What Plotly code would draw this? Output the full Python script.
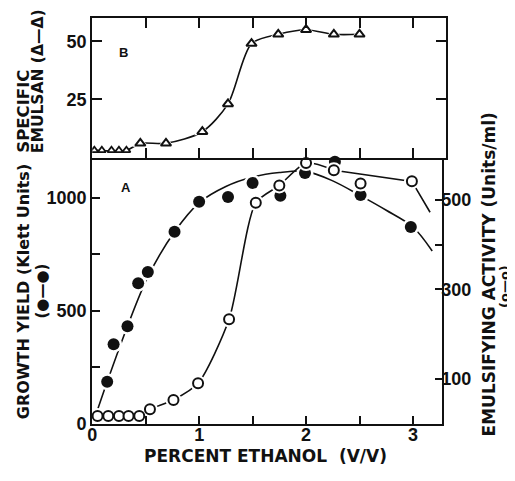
import plotly.graph_objects as go

# ---------------- data ----------------
# Panel A: growth yield (filled circles, left axis, Klett units)
growth_x = [0.14, 0.20, 0.33, 0.43, 0.52, 0.77, 1.00, 1.27, 1.50, 1.76, 1.99, 2.27, 2.51, 2.98]
growth_y = [186, 352, 432, 622, 672, 850, 983, 1004, 1066, 1009, 1110, 1160, 1012, 871]
# hand-drawn smooth curve through the growth data
growth_curve_x = [0.02, 0.14, 0.33, 0.52, 0.77, 1.00, 1.25, 1.50, 1.75, 2.00, 2.25, 2.50, 2.75, 3.00, 3.18]
growth_curve_y = [20, 186, 432, 650, 850, 978, 1050, 1092, 1112, 1117, 1075, 1012, 945, 871, 765]

# Panel A: emulsifying activity (open circles, right axis, units/ml)
emul_x = [0.05, 0.15, 0.25, 0.34, 0.44, 0.54, 0.76, 0.99, 1.28, 1.53, 1.75, 2.00, 2.26, 2.51, 2.99]
emul_y = [17, 17, 17, 17, 17, 32, 53, 90, 233, 493, 532, 582, 566, 536, 541]
emul_curve_x = [0.44, 0.54, 0.76, 0.99, 1.28, 1.53, 1.75, 2.00, 2.26]
emul_curve_y = [17, 32, 53, 90, 233, 493, 532, 582, 566]
emul_tail_x = [2.26, 2.99, 3.16]
emul_tail_y = [566, 541, 472]

# Panel B: specific emulsan (open triangles)
spec_low_x = [0.02, 0.09, 0.18, 0.25, 0.32]
spec_low_y = [3, 3, 3, 3, 3]
spec_x = [0.45, 0.69, 1.03, 1.27, 1.49, 1.74, 2.00, 2.26, 2.50]
spec_y = [6, 6, 11, 23, 49, 53, 55, 53, 53]
spec_curve_x = [0.02, 0.32, 0.45, 0.69, 1.03, 1.27, 1.49, 1.74, 2.00, 2.26, 2.50]
spec_curve_y = [3, 3, 6, 6, 11, 23, 49, 53, 55, 53, 53]

# tick labels
x_tickvals = [0, 0.5, 1, 1.5, 2, 2.5, 3]
x_ticktext = ["0", "", "1", "", "2", "", "3"]
left_tickvals = [0, 250, 500, 750, 1000]
left_ticktext = ["0", "", "500", "", "1000"]
right_tickvals = [100, 300, 400, 500]
right_ticktext = ["100", "300", "", "500"]
top_y_tickvals = [25, 50]
top_y_ticktext = ["25", "50"]
top_x_tickvals = [0.5, 1, 1.5, 2, 2.5, 3]

# ---------------- layout helpers ----------------
# the page body keeps its default 8 px margin; size the figure so the page is 515x481
OFF = 8
W, H = 515 - OFF, 481 - 2 * OFF
def fx(p):
    return (p - OFF) / W
def fy(p):
    return 1 - (p - OFF) / H

BLACK = "#111111"
TICKFONT = dict(family="Liberation Sans, Arial, sans-serif", size=18, color=BLACK, weight="bold")
TITLEFONT = "DejaVu Sans, sans-serif"

fig = go.Figure()

def line_trace(xs, ys, xa, ya, spline=True, smoothing=0.8):
    shape = dict(shape="spline", smoothing=smoothing) if spline else dict(shape="linear")
    fig.add_trace(go.Scatter(x=xs, y=ys, mode="lines",
                             line=dict(color=BLACK, width=1.6, **shape),
                             xaxis=xa, yaxis=ya, showlegend=False, hoverinfo="skip"))

def halo_trace(xs, ys, xa, ya, symbol, size):
    # white halo so the hand-drawn lines stop short of each symbol, as in the original
    fig.add_trace(go.Scatter(x=xs, y=ys, mode="markers",
                             marker=dict(symbol=symbol, size=size, color="white", line=dict(width=0)),
                             xaxis=xa, yaxis=ya, showlegend=False, hoverinfo="skip"))

# ---- lines ----
line_trace(growth_curve_x, growth_curve_y, "x", "y", smoothing=0.9)
line_trace(emul_curve_x, emul_curve_y, "x", "y2", smoothing=0.7)
line_trace(emul_tail_x, emul_tail_y, "x", "y2", spline=False)
line_trace(spec_curve_x, spec_curve_y, "x2", "y3", smoothing=0.8)

# ---- halos ----
halo_trace(growth_x, growth_y, "x", "y", "circle", 17)
halo_trace(emul_x, emul_y, "x", "y2", "circle", 16)
halo_trace(spec_x, spec_y, "x2", "y3", "triangle-up", 14)

# ---- markers ----
fig.add_trace(go.Scatter(x=growth_x, y=growth_y, mode="markers", cliponaxis=False,
                         marker=dict(symbol="circle", size=12, color=BLACK, line=dict(width=0)),
                         xaxis="x", yaxis="y", showlegend=False))
fig.add_trace(go.Scatter(x=emul_x, y=emul_y, mode="markers", cliponaxis=False,
                         marker=dict(symbol="circle", size=10, color="white",
                                     line=dict(color=BLACK, width=2)),
                         xaxis="x", yaxis="y2", showlegend=False))
fig.add_trace(go.Scatter(x=spec_low_x, y=spec_low_y, mode="markers",
                         marker=dict(symbol="triangle-up", size=7, color="white",
                                     line=dict(color=BLACK, width=1.8)),
                         xaxis="x2", yaxis="y3", showlegend=False))
fig.add_trace(go.Scatter(x=spec_x, y=spec_y, mode="markers",
                         marker=dict(symbol="triangle-up", size=9, color="white",
                                     line=dict(color=BLACK, width=2)),
                         xaxis="x2", yaxis="y3", showlegend=False))

axis_common = dict(showline=True, linecolor=BLACK, linewidth=2, ticks="inside",
                   tickcolor=BLACK, tickwidth=2, showgrid=False, zeroline=False,
                   tickfont=TICKFONT, layer="above traces")

fig.update_layout(
    width=W, height=H,
    margin=dict(l=0, r=0, t=0, b=0),
    paper_bgcolor="white", plot_bgcolor="white",
    xaxis=dict(axis_common, domain=[fx(88), fx(441)], range=[0, 3.269], anchor="y",
               tickmode="array", tickvals=x_tickvals, ticktext=x_ticktext, ticklen=8,
               ticklabelstandoff=-6),
    yaxis=dict(axis_common, domain=[fy(433), fy(161.7)], range=[0, 1174.5], anchor="x",
               tickmode="array", tickvals=left_tickvals, ticktext=left_ticktext, ticklen=8),
    yaxis2=dict(axis_common, overlaying="y", side="right", anchor="x",
                range=[-0.5, 592.3], tickmode="array", tickvals=right_tickvals,
                ticktext=right_ticktext, ticklen=7, ticklabelstandoff=-6),
    xaxis2=dict(axis_common, domain=[fx(88), fx(445)], range=[0, 3.306], anchor="y3",
                mirror="allticks", tickmode="array", tickvals=top_x_tickvals,
                showticklabels=False, ticklen=10),
    yaxis3=dict(axis_common, domain=[fy(161.7), fy(18.3)], range=[-0.5, 60], anchor="x2",
                mirror="allticks", tickmode="array", tickvals=top_y_tickvals,
                ticktext=top_y_ticktext, ticklen=10),
)

def label(text, xpx, ypx, size, angle=0, family=TITLEFONT):
    fig.add_annotation(text=text, x=fx(xpx), y=fy(ypx), xref="paper", yref="paper",
                       showarrow=False, textangle=angle, xanchor="center", yanchor="middle",
                       font=dict(family=family, size=size, color=BLACK, weight="bold"))

# axis titles
label("PERCENT ETHANOL  (V/V)", 263, 465.5, 17)
label("GROWTH YIELD (Klett Units)", 18.5, 298, 16, -90)
label("(●—●)", 37, 297, 15, -90)
label("EMULSIFYING ACTIVITY (Units/ml)", 489, 280, 17, -90)
label("(o—o)", 505, 293, 13, -90)
label("SPECIFIC", 19, 113, 16.5, -90)
label("EMULSAN (Δ—Δ)", 34, 83, 15.5, -90)
# panel letters
label("B", 120, 53, 13, 0, "Liberation Sans, Arial, sans-serif")
label("A", 121.7, 191.7, 13, 0, "Liberation Sans, Arial, sans-serif")

fig.write_html("out.html")
